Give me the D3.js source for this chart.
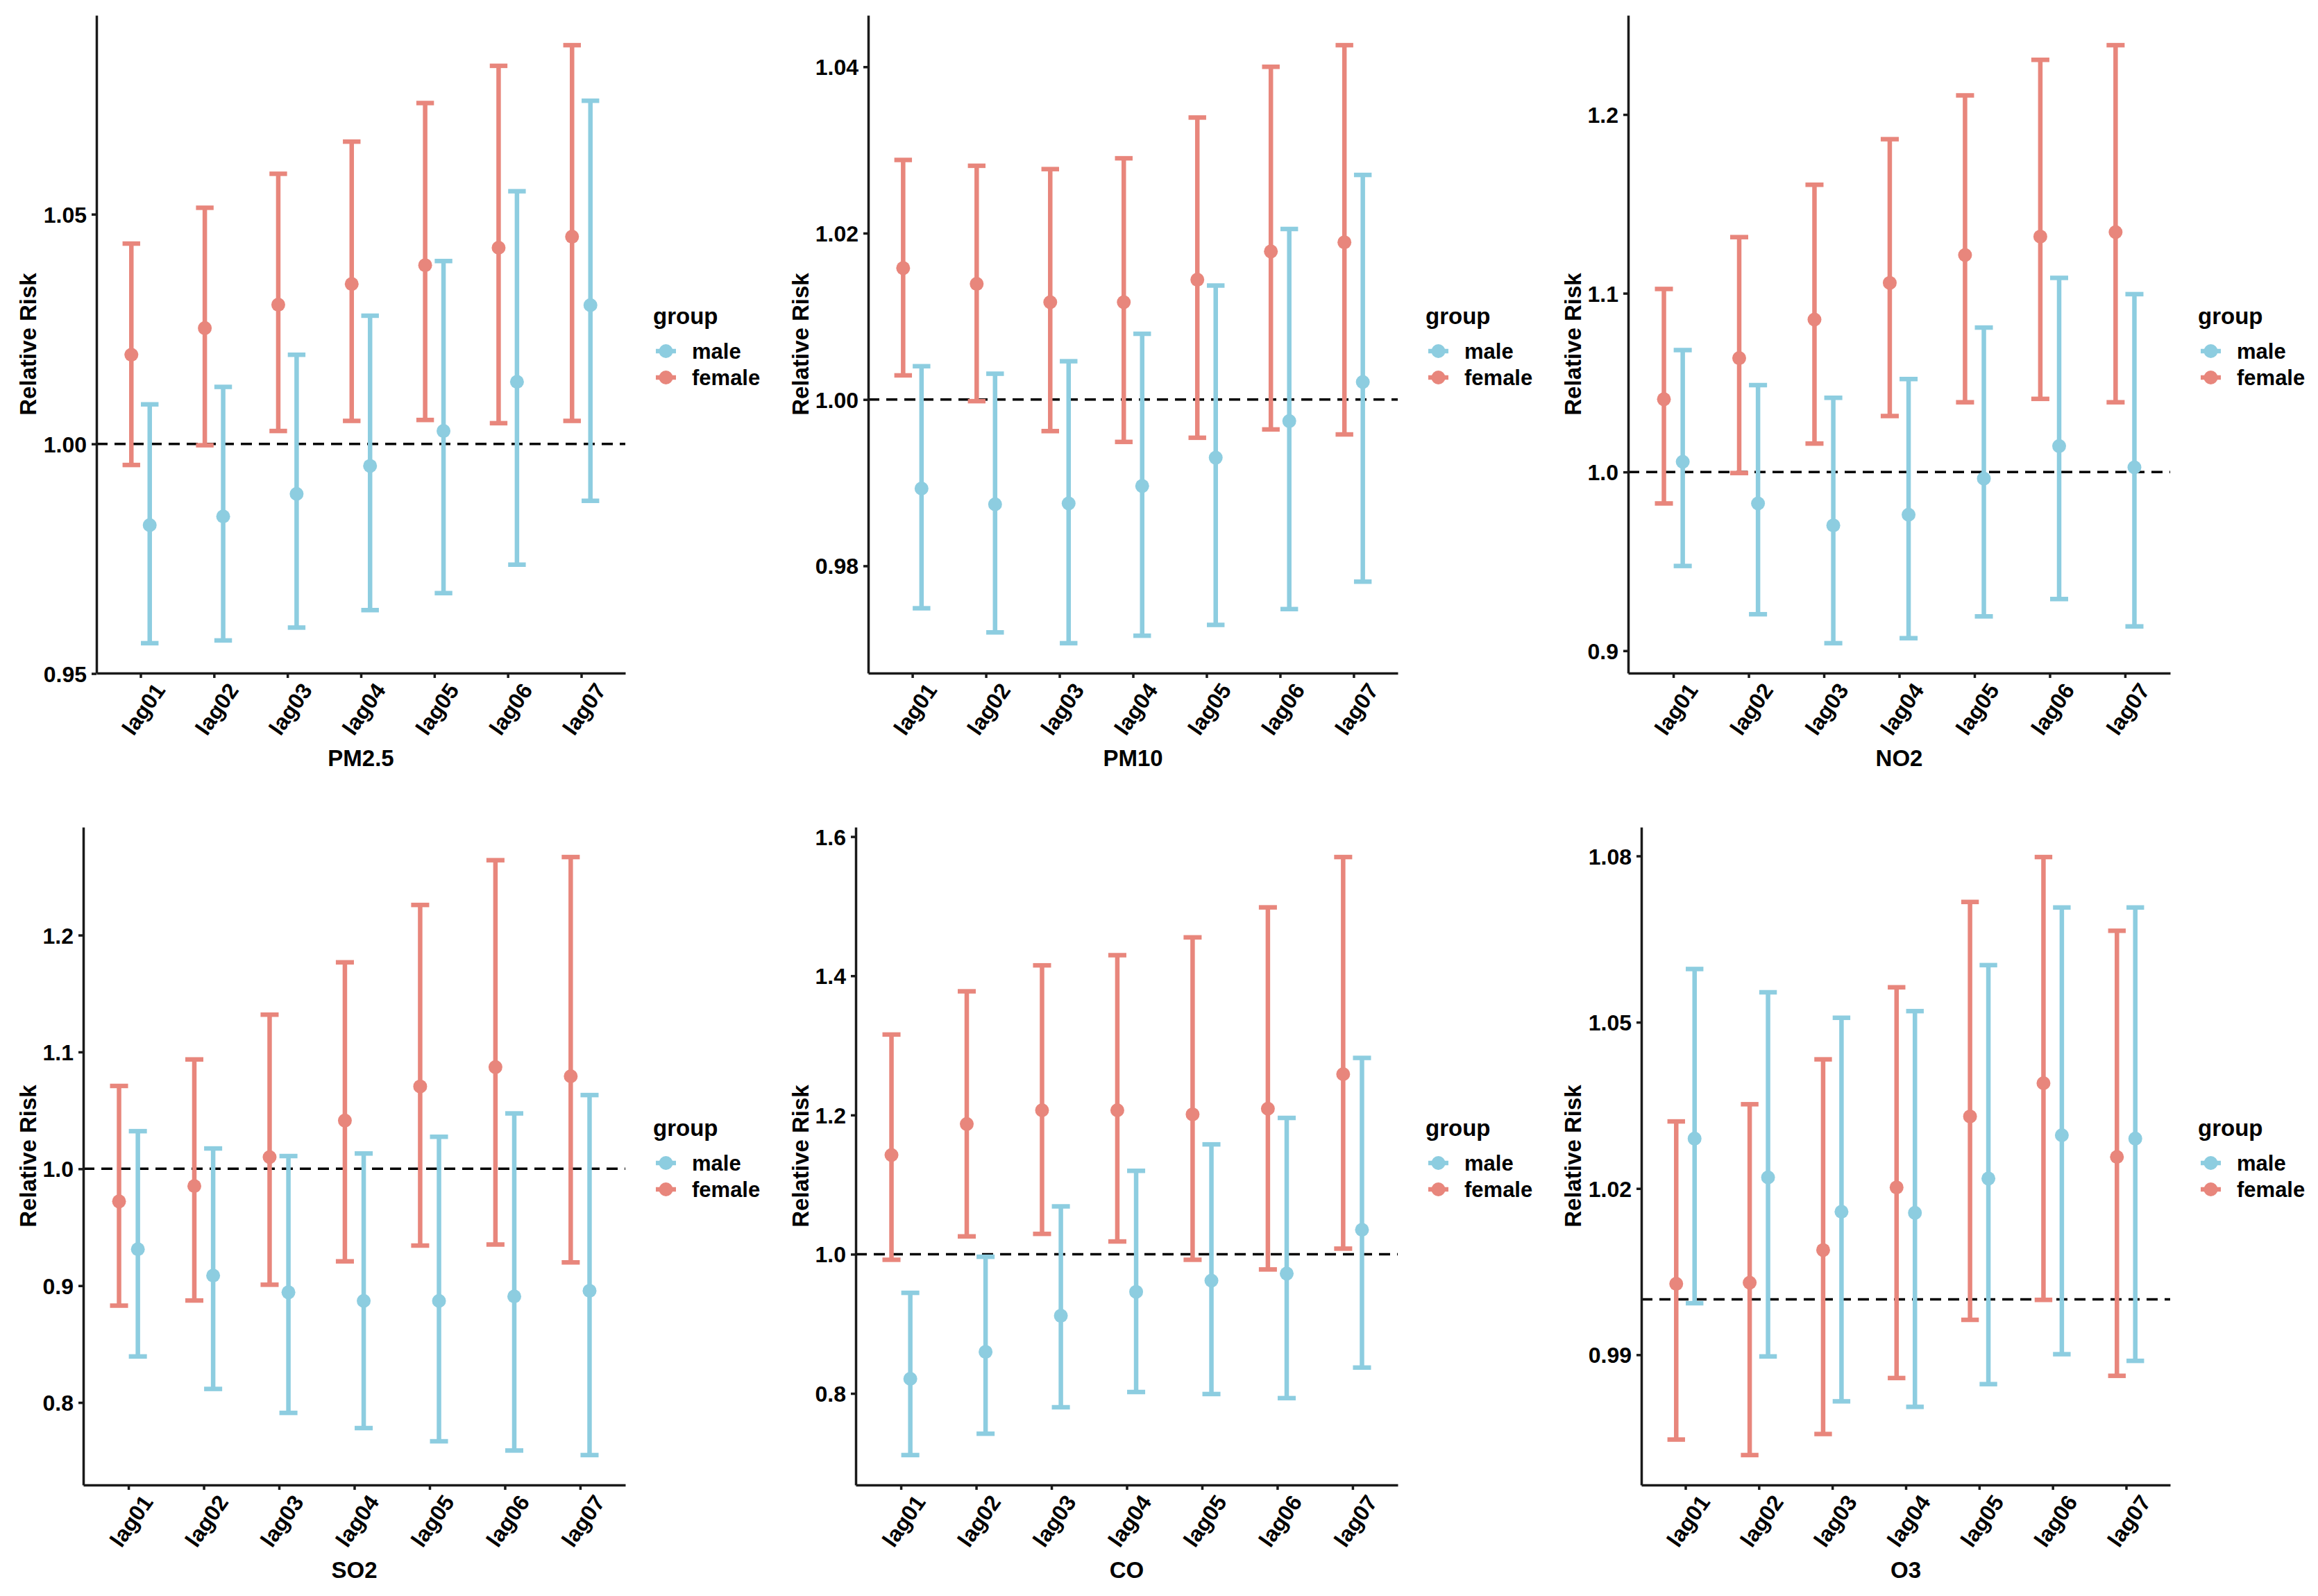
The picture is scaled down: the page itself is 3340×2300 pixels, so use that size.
<!DOCTYPE html>
<html>
<head>
<meta charset="utf-8">
<script src="https://cdn.jsdelivr.net/npm/d3@7"></script>
<style>
  body { margin: 0; background: #fff; }
  svg text { font-family: "Liberation Sans", Arial, sans-serif; font-weight: bold; fill: #000; }
</style>
</head>
<body>
<div id="chart"></div>
<script>
/*
Relative risk by lag day, male vs female, for six pollutants.
*/
const lags = ["lag01", "lag02", "lag03", "lag04", "lag05", "lag06", "lag07"];
const groups = ["male", "female"];

// PM2.5
const pm25FemaleRR = [1.0194, 1.0252, 1.0303, 1.0348, 1.0389, 1.0427, 1.0451];
const pm25FemaleLo = [0.9954, 0.9997, 1.0028, 1.0050, 1.0052, 1.0045, 1.0050];
const pm25FemaleHi = [1.0436, 1.0514, 1.0588, 1.0658, 1.0742, 1.0823, 1.0868];
const pm25MaleRR = [0.9823, 0.9842, 0.9891, 0.9952, 1.0028, 1.0135, 1.0302];
const pm25MaleLo = [0.9566, 0.9572, 0.9600, 0.9638, 0.9675, 0.9737, 0.9876];
const pm25MaleHi = [1.0086, 1.0124, 1.0194, 1.0279, 1.0398, 1.0550, 1.0747];
const pm25Ticks = [0.95, 1.00, 1.05];

// PM10
const pm10FemaleRR = [1.0158, 1.0139, 1.0117, 1.0117, 1.0144, 1.0178, 1.0189];
const pm10FemaleLo = [1.0029, 0.9998, 0.9962, 0.9949, 0.9954, 0.9964, 0.9958];
const pm10FemaleHi = [1.0288, 1.0281, 1.0277, 1.0290, 1.0339, 1.0400, 1.0426];
const pm10MaleRR = [0.9893, 0.9874, 0.9875, 0.9896, 0.9930, 0.9974, 1.0021];
const pm10MaleLo = [0.9749, 0.9720, 0.9707, 0.9716, 0.9729, 0.9748, 0.9781];
const pm10MaleHi = [1.0040, 1.0031, 1.0046, 1.0079, 1.0137, 1.0205, 1.0270];
const pm10Ticks = [0.98, 1.00, 1.02, 1.04];

// NO2
const no2FemaleRR = [1.0407, 1.0637, 1.0853, 1.1058, 1.1214, 1.1317, 1.1342];
const no2FemaleLo = [0.9824, 0.9994, 1.0159, 1.0313, 1.0390, 1.0409, 1.0390];
const no2FemaleHi = [1.1024, 1.1314, 1.1607, 1.1862, 1.2107, 1.2306, 1.2388];
const no2MaleRR = [1.0057, 0.9824, 0.9701, 0.9761, 0.9963, 1.0145, 1.0026];
const no2MaleLo = [0.9474, 0.9204, 0.9042, 0.9070, 0.9192, 0.9289, 0.9136];
const no2MaleHi = [1.0682, 1.0486, 1.0415, 1.0520, 1.0808, 1.1086, 1.0995];
const no2Ticks = [0.9, 1.0, 1.1, 1.2];

// SO2
const so2FemaleRR = [0.9721, 0.9852, 1.0100, 1.0413, 1.0705, 1.0870, 1.0792];
const so2FemaleLo = [0.8829, 0.8873, 0.9008, 0.9208, 0.9343, 0.9352, 0.9199];
const so2FemaleHi = [1.0709, 1.0936, 1.1319, 1.1767, 1.2258, 1.2641, 1.2668];
const so2MaleRR = [0.9312, 0.9086, 0.8943, 0.8869, 0.8869, 0.8908, 0.8956];
const so2MaleLo = [0.8394, 0.8116, 0.7911, 0.7781, 0.7668, 0.7589, 0.7550];
const so2MaleHi = [1.0322, 1.0174, 1.0109, 1.0131, 1.0274, 1.0474, 1.0631];
const so2Ticks = [0.8, 0.9, 1.0, 1.1, 1.2];

// CO
const coFemaleRR = [1.1425, 1.1870, 1.2068, 1.2068, 1.2009, 1.2090, 1.2586];
const coFemaleLo = [0.9920, 1.0256, 1.0292, 1.0183, 0.9920, 0.9781, 1.0080];
const coFemaleHi = [1.3156, 1.3777, 1.4150, 1.4296, 1.4552, 1.4983, 1.5706];
const coMaleRR = [0.8210, 0.8597, 0.9116, 0.9459, 0.9620, 0.9722, 1.0351];
const coMaleLo = [0.7114, 0.7421, 0.7801, 0.8020, 0.7991, 0.7932, 0.8371];
const coMaleHi = [0.9445, 0.9963, 1.0687, 1.1198, 1.1578, 1.1958, 1.2820];
const coTicks = [0.8, 1.0, 1.2, 1.4, 1.6];

// O3
const o3FemaleRR = [1.0028, 1.0030, 1.0089, 1.0202, 1.0330, 1.0390, 1.0257];
const o3FemaleLo = [0.9747, 0.9719, 0.9757, 0.9858, 0.9963, 0.9999, 0.9862];
const o3FemaleHi = [1.0321, 1.0352, 1.0433, 1.0563, 1.0717, 1.0798, 1.0665];
const o3MaleRR = [1.0290, 1.0220, 1.0158, 1.0156, 1.0218, 1.0296, 1.0290];
const o3MaleLo = [0.9993, 0.9897, 0.9816, 0.9806, 0.9847, 0.9901, 0.9889];
const o3MaleHi = [1.0596, 1.0554, 1.0508, 1.0520, 1.0603, 1.0707, 1.0707];
const o3Ticks = [0.99, 1.02, 1.05, 1.08];

const colors = { male: "#8DCDE0", female: "#E8867C" };

// Build one record per point, ggplot style.
function rows(fRR, fLo, fHi, mRR, mLo, mHi) {
    const out = [];
    lags.forEach((lag, i) => {
        out.push({ lag, group: "male", rr: mRR[i], lo: mLo[i], hi: mHi[i] });
        out.push({ lag, group: "female", rr: fRR[i], lo: fLo[i], hi: fHi[i] });
    });
    return out;
}

const panels = [
    { title: "PM2.5", ticks: pm25Ticks, fmt: ".2f", left: 139,
      data: rows(pm25FemaleRR, pm25FemaleLo, pm25FemaleHi, pm25MaleRR, pm25MaleLo, pm25MaleHi) },
    { title: "PM10", ticks: pm10Ticks, fmt: ".2f", left: 138,
      data: rows(pm10FemaleRR, pm10FemaleLo, pm10FemaleHi, pm10MaleRR, pm10MaleLo, pm10MaleHi) },
    { title: "NO2", ticks: no2Ticks, fmt: ".1f", left: 120,
      data: rows(no2FemaleRR, no2FemaleLo, no2FemaleHi, no2MaleRR, no2MaleLo, no2MaleHi) },
    { title: "SO2", ticks: so2Ticks, fmt: ".1f", left: 120,
      data: rows(so2FemaleRR, so2FemaleLo, so2FemaleHi, so2MaleRR, so2MaleLo, so2MaleHi) },
    { title: "CO", ticks: coTicks, fmt: ".1f", left: 120,
      data: rows(coFemaleRR, coFemaleLo, coFemaleHi, coMaleRR, coMaleLo, coMaleHi) },
    { title: "O3", ticks: o3Ticks, fmt: ".2f", left: 139,
      data: rows(o3FemaleRR, o3FemaleLo, o3FemaleHi, o3MaleRR, o3MaleLo, o3MaleHi) }
];

const width = 3340;
const height = 2300;
const colW = 1113;
const rowH = 1170;
const plotTop = 22;
const plotBottom = 970;
const plotRight = 901;

const svg = d3.select("#chart").append("svg")
    .attr("width", width)
    .attr("height", height)
    .attr("viewBox", [0, 0, width, height]);

svg.append("rect").attr("width", width).attr("height", height).attr("fill", "#fff");

panels.forEach((p, i) => {
    const g = svg.append("g")
        .attr("transform", `translate(${(i % 3) * colW},${Math.floor(i / 3) * rowH})`);
    drawPanel(g, p);
});

/*
Draw one panel: error bars, points, reference line, axes and legend.
*/
function drawPanel(g, p) {
    const x = d3.scalePoint()
        .domain(lags)
        .range([p.left, plotRight])
        .padding(0.6);
    const step = x.step();

    // y range expanded 5% like ggplot
    const lo = d3.min(p.data, d => d.lo);
    const hi = d3.max(p.data, d => d.hi);
    const pad = (Math.max(hi, 1) - Math.min(lo, 1)) * 0.05;
    const y = d3.scaleLinear()
        .domain([Math.min(lo, 1) - pad, Math.max(hi, 1) + pad])
        .range([plotBottom, plotTop]);

    const dodge = d => x(d.lag) + (d.group === "female" ? -0.125 : 0.125) * step;
    const cap = 0.12 * step;

    // reference line at RR = 1
    g.append("line")
        .attr("x1", p.left).attr("x2", plotRight)
        .attr("y1", y(1)).attr("y2", y(1))
        .attr("stroke", "#000")
        .attr("stroke-width", 3.5)
        .attr("stroke-dasharray", "16,10");

    const bars = g.append("g")
        .selectAll("g")
        .data(p.data)
        .join("g")
            .attr("stroke", d => colors[d.group])
            .attr("stroke-width", 6.5)
            .attr("fill", "none");

    bars.append("line")
        .attr("x1", dodge).attr("x2", dodge)
        .attr("y1", d => y(d.lo)).attr("y2", d => y(d.hi));
    bars.append("line")
        .attr("x1", d => dodge(d) - cap).attr("x2", d => dodge(d) + cap)
        .attr("y1", d => y(d.lo)).attr("y2", d => y(d.lo));
    bars.append("line")
        .attr("x1", d => dodge(d) - cap).attr("x2", d => dodge(d) + cap)
        .attr("y1", d => y(d.hi)).attr("y2", d => y(d.hi));

    g.append("g")
        .selectAll("circle")
        .data(p.data)
        .join("circle")
            .attr("cx", dodge)
            .attr("cy", d => y(d.rr))
            .attr("r", 10)
            .attr("fill", d => colors[d.group]);

    // axes
    const yAxis = g.append("g")
        .attr("transform", `translate(${p.left},0)`)
        .call(d3.axisLeft(y).tickValues(p.ticks).tickFormat(d3.format(p.fmt)).tickSize(7).tickSizeOuter(0));
    const xAxis = g.append("g")
        .attr("transform", `translate(0,${plotBottom})`)
        .call(d3.axisBottom(x).tickSize(7).tickSizeOuter(0));

    [yAxis, xAxis].forEach(a => {
        a.attr("font-family", null).attr("font-size", null);
        a.selectAll("path, line").attr("stroke", "#1a1a1a").attr("stroke-width", 3.5);
        a.selectAll("text").style("font-size", "32px").attr("fill", "#000");
    });
    yAxis.selectAll("text").attr("x", -14).attr("dy", "0.36em");
    xAxis.selectAll("text")
        .attr("x", null).attr("y", null).attr("dy", "0.36em")
        .attr("text-anchor", "end")
        .attr("transform", "translate(27,18) rotate(-55)");

    // axis titles
    g.append("text")
        .attr("transform", `translate(40,${(plotTop + plotBottom) / 2}) rotate(-90)`)
        .attr("text-anchor", "middle")
        .attr("dy", "0.36em")
        .style("font-size", "33px")
        .text("Relative Risk");
    g.append("text")
        .attr("x", (p.left + plotRight) / 2)
        .attr("y", 1092)
        .attr("text-anchor", "middle")
        .attr("dy", "0.36em")
        .style("font-size", "33px")
        .text(p.title);

    // legend
    const legend = g.append("g").attr("transform", "translate(941,0)");
    legend.append("text")
        .attr("x", 0).attr("y", 455)
        .attr("dy", "0.36em")
        .style("font-size", "33px")
        .text("group");
    const item = legend.selectAll("g.item")
        .data(groups)
        .join("g")
            .attr("class", "item")
            .attr("transform", (d, k) => `translate(0,${506 + k * 38})`);
    item.append("line")
        .attr("x1", 4).attr("x2", 33)
        .attr("stroke", d => colors[d])
        .attr("stroke-width", 6.5);
    item.append("circle")
        .attr("cx", 18.5).attr("r", 10)
        .attr("fill", d => colors[d]);
    item.append("text")
        .attr("x", 56)
        .attr("dy", "0.36em")
        .style("font-size", "31px")
        .text(d => d);
}
</script>
</body>
</html>
